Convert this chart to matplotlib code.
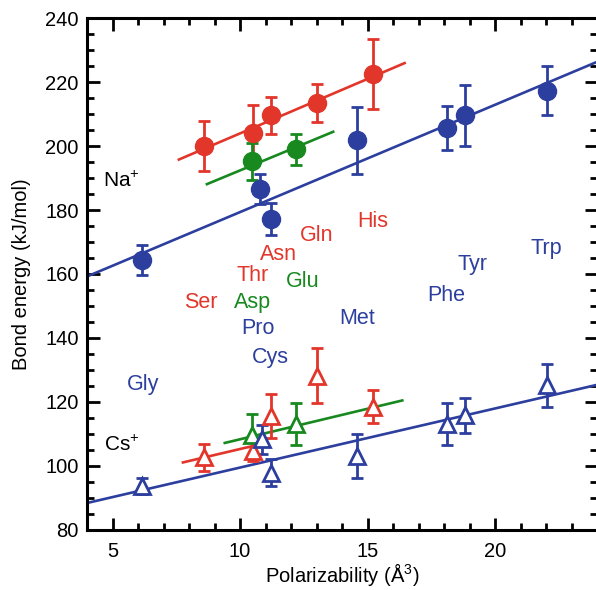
import numpy as np
import matplotlib
matplotlib.use("Agg")
import matplotlib.pyplot as plt
from matplotlib.ticker import MultipleLocator

plt.rcParams["font.family"] = ["Liberation Sans", "DejaVu Sans"]
plt.rcParams["mathtext.fontset"] = "custom"
plt.rcParams["mathtext.rm"] = "Liberation Sans"
plt.rcParams["mathtext.default"] = "rm"

RED = "#e2362b"
GREEN = "#17891f"
BLUE = "#2c3f9e"

# Na+ (filled circles)
na_red_x = [8.6, 10.5, 11.2, 13.0, 15.2]
na_red_y = [200.0, 204.0, 209.7, 213.5, 222.6]
na_red_err = [7.8, 9.0, 5.8, 5.8, 11.0]

na_green_x = [10.45, 12.2]
na_green_y = [195.2, 199.0]
na_green_err = [5.9, 4.8]

na_blue_x = [6.16, 10.8, 11.2, 14.6, 18.1, 18.8, 22.05]
na_blue_y = [164.4, 186.5, 177.2, 201.9, 205.7, 209.6, 217.3]
na_blue_err = [4.7, 4.7, 5.0, 10.5, 6.8, 9.6, 7.7]

# Cs+ (open triangles)
cs_red_x = [8.6, 10.5, 11.2, 13.0, 15.2]
cs_red_y = [102.6, 104.5, 115.5, 128.2, 118.5]
cs_red_err = [4.2, 3.0, 6.9, 8.5, 5.2]

cs_green_x = [10.45, 12.2]
cs_green_y = [109.5, 113.0]
cs_green_err = [6.8, 6.5]

cs_blue_x = [6.16, 10.85, 11.2, 14.6, 18.1, 18.8, 22.05]
cs_blue_y = [93.6, 108.2, 97.8, 103.0, 113.1, 115.7, 125.1]
cs_blue_err = [2.5, 4.6, 4.3, 6.8, 6.5, 5.6, 6.8]

# fitted lines: (x_start, x_end, y_start, y_end)
na_fits = [(7.6, 16.45, 195.8, 226.0, RED),
           (8.7, 13.65, 188.1, 204.5, GREEN),
           (4.0, 24.0, 159.2, 226.4, BLUE)]
cs_fits = [(7.76, 10.96, 101.0, 107.0, RED),
           (9.4, 16.36, 107.1, 120.4, GREEN),
           (4.0, 24.0, 88.3, 125.3, BLUE)]

# residue labels
res_names = ["Gln", "His", "Asn", "Thr", "Glu", "Ser", "Asp", "Pro", "Cys",
             "Met", "Phe", "Tyr", "Trp", "Gly"]
res_x = [13.0, 15.2, 11.5, 10.5, 12.45, 8.45, 10.5, 10.7, 11.2,
         14.6, 18.1, 19.1, 22.0, 6.2]
res_y = [172.0, 176.3, 166.0, 159.4, 157.5, 151.0, 151.0, 143.0, 134.0,
         146.0, 153.4, 162.8, 168.0, 125.3]
res_col = [RED, RED, RED, RED, GREEN, RED, GREEN, BLUE, BLUE,
           BLUE, BLUE, BLUE, BLUE, BLUE]

fig = plt.figure(figsize=(5.96, 5.90), dpi=100)
ax = fig.add_axes([0.146, 0.1025, 0.856, 0.8664])

for x0, x1, y0, y1, c in na_fits + cs_fits:
    ax.plot([x0, x1], [y0, y1], color=c, linewidth=1.9, zorder=2)

for xs, ys, es, c in [(na_red_x, na_red_y, na_red_err, RED),
                      (na_green_x, na_green_y, na_green_err, GREEN),
                      (na_blue_x, na_blue_y, na_blue_err, BLUE)]:
    ax.errorbar(xs, ys, yerr=es, fmt="o", color=c, markersize=13,
                elinewidth=2.0, capsize=4, capthick=2.0, zorder=3)

for xs, ys, es, c in [(cs_red_x, cs_red_y, cs_red_err, RED),
                      (cs_green_x, cs_green_y, cs_green_err, GREEN),
                      (cs_blue_x, cs_blue_y, cs_blue_err, BLUE)]:
    ax.errorbar(xs, ys, yerr=es, fmt="^", color=c, markersize=12,
                markerfacecolor="white", markeredgewidth=2.0,
                elinewidth=2.0, capsize=4, capthick=2.0, zorder=3)

for name, x, y, c in zip(res_names, res_x, res_y, res_col):
    ax.text(x, y, name, color=c, fontsize=15.5, ha="center", va="center")

ax.text(5.35, 189.0, "Na$^{+}$", fontsize=15, ha="center", va="center")
ax.text(5.35, 106.5, "Cs$^{+}$", fontsize=15, ha="center", va="center")

ax.set_xlim(4, 24)
ax.set_ylim(80, 240)
ax.xaxis.set_major_locator(MultipleLocator(5))
ax.xaxis.set_minor_locator(MultipleLocator(1))
ax.yaxis.set_major_locator(MultipleLocator(20))
ax.yaxis.set_minor_locator(MultipleLocator(5))
ax.tick_params(which="both", direction="in", top=True, right=True,
               width=2.0, labelsize=14.5)
ax.tick_params(which="major", length=9)
ax.tick_params(which="minor", length=5)
ax.tick_params(axis="x", pad=9)
ax.tick_params(axis="y", pad=6)
for s in ax.spines.values():
    s.set_linewidth(2.2)

ax.set_xlabel("Polarizability (Å$^{3}$)", fontsize=14.5, labelpad=0)
ax.set_ylabel("Bond energy (kJ/mol)", fontsize=14.5, labelpad=10)

fig.savefig("out.png", dpi=100)
